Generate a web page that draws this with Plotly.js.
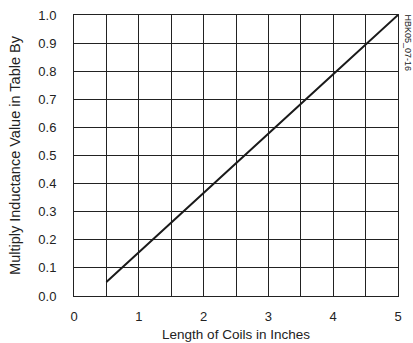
<!DOCTYPE html>
<html>
<head>
<meta charset="utf-8">
<script src="https://cdn.plot.ly/plotly-3.0.1.min.js"></script>
<style>html,body{margin:0;padding:0;background:#fff;}#chart{width:413px;height:343px;}</style>
</head>
<body>
<div id="chart"></div>
<script>
var coilLength = [0.5, 1, 2, 3, 4, 5];
var multiplier = [0.05, 0.156, 0.367, 0.578, 0.789, 1.0];
var yTickVals = [0, 0.1, 0.2, 0.3, 0.4, 0.5, 0.6, 0.7, 0.8, 0.9, 1.0];
var yTickText = ["0.0","0.1","0.2","0.3","0.4","0.5","0.6","0.7","0.8","0.9","1.0"];
var xTickVals = [0, 1, 2, 3, 4, 5];
var xTickText = ["0","1","2","3","4","5"];

var fam = "Liberation Sans, Arial, sans-serif";
var tickFont = {family: fam, size: 13, color: "#222"};
var titleFont = {family: fam, size: 13.5, color: "#222"};

Plotly.newPlot("chart", [{
  x: coilLength, y: multiplier, type: "scatter", mode: "lines",
  line: {color: "#1a1a1a", width: 2}, hoverinfo: "none"
}], {
  width: 413, height: 343,
  margin: {l: 74, r: 15, t: 15, b: 47},
  paper_bgcolor: "#fff", plot_bgcolor: "#fff",
  showlegend: false,
  font: tickFont,
  xaxis: {
    range: [0, 5], tickvals: xTickVals, ticktext: xTickText,
    showgrid: true, gridcolor: "#222", gridwidth: 1,
    minor: {dtick: 0.5, tick0: 0, showgrid: true, gridcolor: "#222", gridwidth: 1},
    showline: true, mirror: true, linecolor: "#222", linewidth: 1,
    zeroline: false, ticks: "", ticklen: 0, ticklabelstandoff: 8,
    tickfont: tickFont,
    title: {text: "Length of Coils in Inches", font: titleFont, standoff: 6}
  },
  yaxis: {
    range: [0, 1.0], tickvals: yTickVals, ticktext: yTickText,
    showgrid: true, gridcolor: "#222", gridwidth: 1,
    showline: true, mirror: true, linecolor: "#222", linewidth: 1,
    zeroline: false, ticks: "", ticklen: 0, ticklabelstandoff: 14,
    tickfont: tickFont,
    title: {text: "Multiply Inductance Value in Table By", font: {family: fam, size: 14.5, color: "#222"}, standoff: 14}
  },
  annotations: [{
    text: "HBK05_07-16", xref: "paper", yref: "paper",
    x: 1, y: 1, xanchor: "left", yanchor: "top", xshift: 3, yshift: 3,
    textangle: 90, showarrow: false,
    font: {family: fam, size: 9, color: "#222"}
  }]
}, {staticPlot: true});
</script>
</body>
</html>
